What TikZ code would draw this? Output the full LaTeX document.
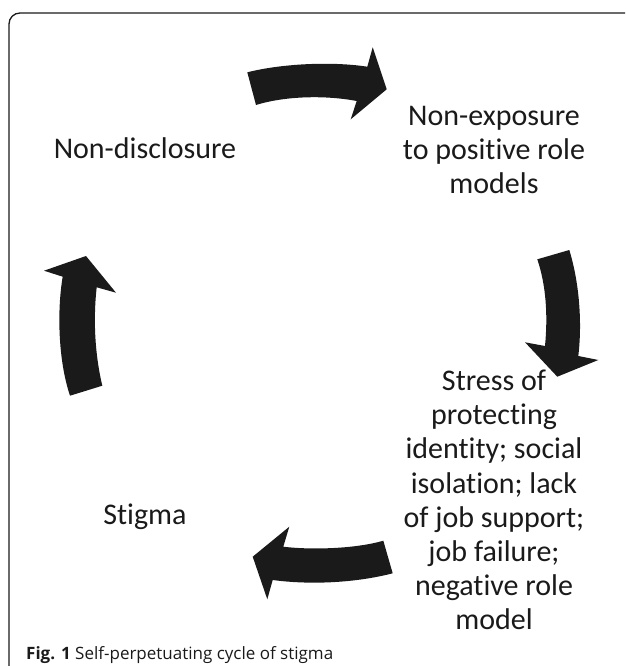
\documentclass[tikz,border=0pt]{standalone}
\usepackage{fontspec}
\setmainfont{Carlito}[Ligatures=NoCommon]
\newfontfamily\capfont{Open Sans}
\usetikzlibrary{positioning}
\definecolor{inkblack}{HTML}{1A1A1A}
\tikzset{stage/.style={align=center, text=inkblack, inner sep=0pt, font=\fontsize{30}{34.2}\selectfont}, cyclearrow/.style={fill=inkblack}, frame/.style={draw=inkblack, line width=1.3pt, rounded corners=11pt}}

\begin{document}
\begin{tikzpicture}[x=1pt, y=-1pt]
    \useasboundingbox (0,0) rectangle (625,666);
    \draw[frame] (9,666) -- (9,13) -- (625,13);
    \node[stage] (disclose) at (145,148) {Non-disclosure};
    \node[stage] (exposure) at (494,150) {Non-exposure\\to positive role\\models};
    \node[stage] (stress) at (494,500) {Stress of\\protecting\\identity; social\\isolation; lack\\of job support;\\job failure;\\negative role\\model};
    \node[stage] (stigma) at (145,517) {Stigma};
    \node[anchor=base west, text=inkblack, inner sep=0pt, font=\capfont\fontsize{17}{20}\selectfont] (caption) at (26,659) {\textbf{Fig. 1} Self-perpetuating cycle of stigma};
    \fill[cyclearrow] (247.3,72.3) .. controls (280,64) and (330,61) .. (367.3,66.7) -- (372.7,47.3) -- (386.7,89.3) -- (350.7,119.3) -- (356.7,101) .. controls (325,95) and (285,96) .. (256,105) -- cycle;
    \fill[cyclearrow] (537.3,259.3) .. controls (546,285) and (548,315) .. (545,346) -- (525,342.3) -- (557.3,376.7) -- (598.3,360) -- (578.3,356) .. controls (582,325) and (580,285) .. (569.3,250) -- cycle;
    \fill[cyclearrow] (383.3,540.7) .. controls (355,549) and (310,550) .. (283.3,546.7) -- (289.3,526.7) -- (252.7,556.7) -- (267.3,599.3) -- (272.7,580) .. controls (310,585) and (355,583) .. (392.7,573.3) -- cycle;
    \fill[cyclearrow] (70,395.7) .. controls (58,360) and (57,310) .. (62.7,276.7) -- (44,270.7) -- (86,256) -- (116,292.7) -- (96.7,287.3) .. controls (93,320) and (95,355) .. (102.3,385.7) -- cycle;
\end{tikzpicture}
\end{document}
